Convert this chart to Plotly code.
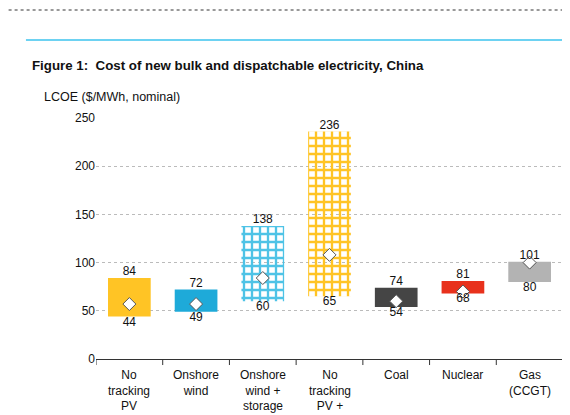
import plotly.graph_objects as go

cats = ["No<br>tracking<br>PV", "Onshore<br>wind", "Onshore<br>wind +<br>storage", "No<br>tracking<br>PV +<br>storage", "Coal", "Nuclear", "Gas<br>(CCGT)"]
low = [44, 49, 60, 65, 54, 68, 80]
high = [84, 72, 138, 236, 74, 81, 101]
mid = [57, 57, 84, 108, 60, 70, 100]
colors = ["#FFC425", "#1EAAD9", "#4EC3E6", "#FFC425", "#454545", "#E8311C", "#B3B3B3"]
patterned = [False, False, True, True, False, False, False]

x = list(range(len(cats)))
fig = go.Figure()
fig.add_trace(go.Bar(
    x=x, y=[h - l for h, l in zip(high, low)], base=low, width=0.64,
    marker=dict(color=colors, line=dict(width=0),
                pattern=dict(shape=["+" if p else "" for p in patterned],
                             fgcolor=["#EE5FA7"] * len(cats), bgcolor=colors,
                             size=8, solidity=0.5, fillmode="replace")),
    hoverinfo="skip"))
fig.add_trace(go.Scatter(x=x, y=mid, mode="markers",
    marker=dict(symbol="diamond", size=10, color="white", line=dict(color="#555", width=1))))
fig.add_trace(go.Scatter(x=x, y=high, mode="text", text=[str(v) for v in high],
    textposition="top center", textfont=dict(size=12, color="#111")))
fig.add_trace(go.Scatter(x=x, y=low, mode="text", text=[str(v) for v in low],
    textposition="bottom center", textfont=dict(size=12, color="#111")))

for i in range(len(cats) + 1):
    fig.add_shape(type="line", xref="x", yref="paper", x0=i - 0.5, x1=i - 0.5, y0=0, y1=-0.025,
                  line=dict(color="#333", width=1))
for i, c in enumerate(cats):
    fig.add_annotation(x=i, y=-0.03, xref="x", yref="paper", text=c, showarrow=False,
                       yanchor="top", font=dict(size=12, color="#111"))

fig.add_shape(type="line", xref="paper", yref="paper", x0=-0.15, x1=1.05, y0=1.324, y1=1.324,
              line=dict(color="#3CC3EE", width=1.5))
fig.add_shape(type="line", xref="paper", yref="paper", x0=-0.2, x1=1.05, y0=1.448, y1=1.448,
              line=dict(color="#999", width=2, dash="dot"))
fig.add_annotation(xref="paper", yref="paper", x=-0.142, y=1.216, xanchor="left", yanchor="middle",
                   text="<b>Figure 1:  Cost of new bulk and dispatchable electricity, China</b>",
                   showarrow=False, font=dict(size=13.3, color="#111"))
fig.add_annotation(xref="paper", yref="paper", x=-0.115, y=1.087, xanchor="left", yanchor="middle",
                   text="LCOE ($/MWh, nominal)", showarrow=False, font=dict(size=12.5, color="#111"))

fig.update_layout(
    width=570, height=415, margin=dict(l=88, r=15, t=110, b=64, autoexpand=False),
    plot_bgcolor="white", paper_bgcolor="white", showlegend=False,
    font=dict(family="Liberation Sans, Arial", size=12, color="#111"),
    xaxis=dict(range=[-0.5, 6.5], showticklabels=False, showgrid=False, zeroline=False,
               showline=True, linecolor="#333", linewidth=1),
    yaxis=dict(range=[0, 250], tickvals=[0, 50, 100, 150, 200, 250], showgrid=True,
               gridcolor="#bbb", griddash="dot", zeroline=False, ticks="", ticklen=0,
               showline=False))
fig.write_html("out.html")
